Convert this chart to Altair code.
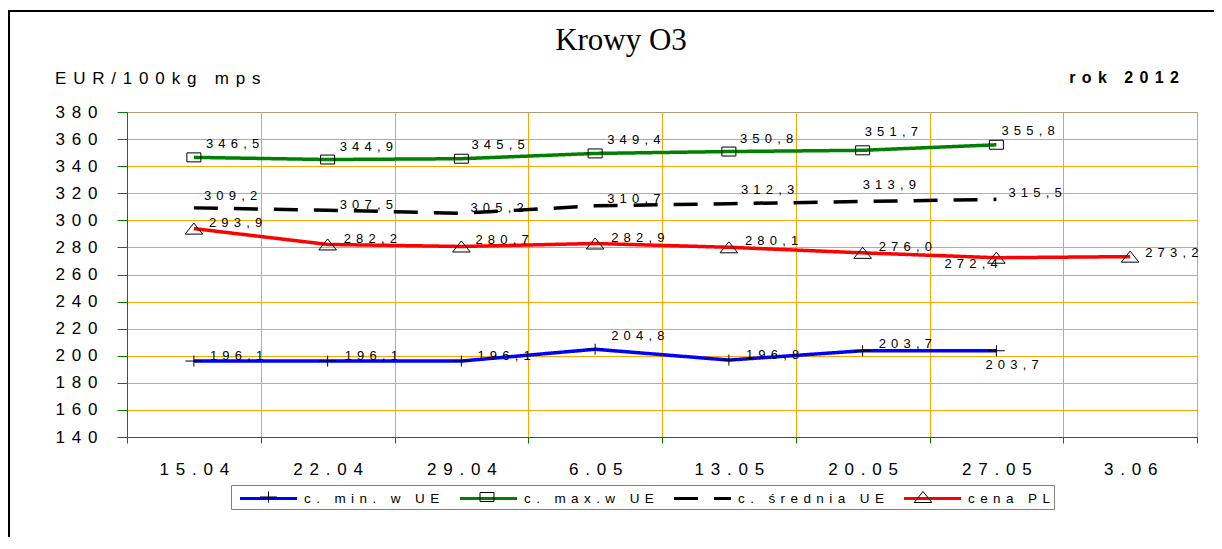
import altair as alt
import pandas as pd

# ---------------- data ----------------
DATES = ["15.04", "22.04", "29.04", "6.05", "13.05", "20.05", "27.05", "3.06"]
SERIES = ["c. min. w UE", "c. max.w UE", "c. średnia UE", "cena PL"]
MIN_UE = [196.1, 196.1, 196.1, 204.8, 196.8, 203.7, 203.7]
MAX_UE = [346.5, 344.9, 345.5, 349.4, 350.8, 351.7, 355.8]
AVG_UE = [309.2, 307.5, 305.2, 310.7, 312.3, 313.9, 315.5]
CENA_PL = [293.9, 282.2, 280.7, 282.9, 280.1, 276.0, 272.4, 273.2]
Y_TICKS = [140, 160, 180, 200, 220, 240, 260, 280, 300, 320, 340, 360, 380]

TITLE = "Krowy O3"
UNIT = "EUR/100kg mps"
YEAR = "rok 2012"

# ---------------- style ----------------
COLORS = ["#0000FF", "#008000", "#000000", "#FF0000"]
DASHES = [[1, 0], [1, 0], [24, 16], [1, 0]]
SYM = 256  # symbol size -> path unit = sqrt(256)/2 = 8 px
MARKERS = {  # series -> (marker path, legend x of its marker)
    "c. min. w UE": ("M-1.06,0H1.06M0,-0.69V0.69", 133),
    "c. max.w UE": ("M-0.875,-0.56H0.875V0.56H-0.875Z", 351.5),
    "cena PL": ("M0,-0.69L1.1,0.69L-1.1,0.69Z", 787.5),
}
LEGEND_LINE = "M-3.5625,0H3.5625"              # 57 px long line symbol
SANS = "Liberation Sans"
SERIF = "Liberation Serif"
SP = "\u2009\u2009"
GRID = "#FFA500"
AXIS_GREEN = "#008000"
FRAME_TAN = "#B49B78"
MARK_TAG = "#"
LEG_FS = 13.5

# label offsets (dx, dy) per point, style only
LABEL_OFFSETS = {
    "c. min. w UE": [(16, -1), (17, -1), (16, -1), (16, -9), (17, -1), (16, -3), (-11, 18)],
    "c. max.w UE": [(12, -9), (12, -9), (10, -10), (12, -9), (11, -9), (2, -14), (5, -10)],
    "c. średnia UE": [(10, -8), (12, -1), (9, -1), (12, -3), (12, -10), (0, -13), (12, -2)],
    "cena PL": [(15, -2), (16, -1), (14, -2), (16, -1), (16, -2), (16, -2), (-52, 10), (15, 0)],
}


def spaced(s):
    return SP.join(list(s))


def spaced_expr(e):
    return f"join(split({e}, ''), '{SP}')"


rows = []
for s, vals in zip(SERIES, [MIN_UE, MAX_UE, AVG_UE, CENA_PL]):
    for i, v in enumerate(vals):
        rows.append({"series": s, "marker": s + MARK_TAG, "date": DATES[i], "idx": i, "value": v})
df = pd.DataFrame(rows)

base = alt.Chart(df).transform_calculate(
    lbl=spaced_expr("replace(format(datum.value, '.1f'), '.', ',')")
)

x_axis = alt.Axis(
    title=None, tickBand="extent", grid=True, gridColor=GRID, gridWidth=1,
    domainColor=AXIS_GREEN, tickColor=AXIS_GREEN, tickSize=6, labelAngle=0,
    labelFont=SANS, labelFontSize=17, labelColor="black", labelBaseline="alphabetic",
    labelPadding=31, labelExpr=spaced_expr("datum.label"),
)
y_axis = alt.Axis(
    title=None, values=Y_TICKS, grid=True,
    gridColor={"condition": {"test": "datum.value === 380", "value": FRAME_TAN}, "value": GRID},
    domainColor=AXIS_GREEN, tickColor=AXIS_GREEN, tickSize=10, labelPadding=20,
    labelFont=SANS, labelFontSize=17, labelColor="black",
    labelExpr=spaced_expr("datum.label"),
)

X = alt.X("date:N", scale=alt.Scale(type="band", domain=DATES, paddingInner=0, paddingOuter=0), axis=x_axis)
Y = alt.Y("value:Q", scale=alt.Scale(domain=[140, 380], nice=False, zero=False), axis=y_axis)

legend_lines = alt.Legend(
    orient="none", legendX=104, legendY=373, direction="horizontal", title=None,
    symbolType=LEGEND_LINE, symbolSize=SYM, symbolStrokeWidth=3, symbolOffset=24,
    labelOffset=26, labelFont=SANS, labelFontSize=LEG_FS, labelLimit=400, labelColor="black",
    columnPadding=14, padding=4, strokeColor="#808080",
    labelExpr=spaced_expr("datum.label"), zindex=0,
)

lines = base.mark_line(strokeWidth=3.5, interpolate="linear").encode(
    x=X, y=Y,
    color=alt.Color("series:N", scale=alt.Scale(domain=SERIES, range=COLORS), legend=legend_lines),
    strokeDash=alt.StrokeDash("series:N", scale=alt.Scale(domain=SERIES, range=DASHES), legend=legend_lines),
    order=alt.Order("idx:Q"),
)

point_layers = []
for s, (path, lx) in MARKERS.items():
    mleg = alt.Legend(
        orient="none", legendX=lx, legendY=376.5, title=None, direction="horizontal",
        symbolSize=SYM, symbolStrokeWidth=1, symbolStrokeColor="black", symbolFillColor="transparent",
        labelExpr="''", labelFontSize=1, labelOffset=0, padding=0, zindex=1,
    )
    point_layers.append(
        base.transform_filter(f"datum.series === '{s}'")
        .mark_point(filled=False, size=SYM, stroke="black", strokeWidth=1, opacity=1)
        .encode(
            x=X, y=Y,
            shape=alt.Shape("marker:N", scale=alt.Scale(domain=[s + MARK_TAG], range=[path]), legend=mleg),
        )
    )

label_layers = []
for s, offs in LABEL_OFFSETS.items():
    for d, (dx, dy) in zip(DATES, offs):
        label_layers.append(
            base.transform_filter(f"datum.series === '{s}' && datum.date === '{d}'")
            .mark_text(align="left", baseline="alphabetic", dx=dx, dy=dy, font=SANS, fontSize=13, color="black")
            .encode(x=X, y=Y, text="lbl:N")
        )

hdr = alt.Chart(pd.DataFrame({"title": [TITLE], "unit": [spaced(UNIT)], "year": [spaced(YEAR)]}))
frame = hdr.mark_rect(fill="transparent", stroke="black", strokeWidth=2).encode(
    x=alt.value(-118), y=alt.value(-101), x2=alt.value(1400), y2=alt.value(800)
)
title_t = hdr.mark_text(font=SERIF, fontSize=31, align="center", baseline="alphabetic", color="black").encode(
    text="title:N", x=alt.value(494), y=alt.value(-62)
)
unit_t = hdr.mark_text(font=SANS, fontSize=17, align="left", baseline="alphabetic", color="black").encode(
    text="unit:N", x=alt.value(-72), y=alt.value(-28)
)
year_t = hdr.mark_text(font=SANS, fontSize=16, fontWeight="bold", align="right", baseline="alphabetic", color="black").encode(
    text="year:N", x=alt.value(1052), y=alt.value(-29)
)

chart = alt.layer(frame, lines, *point_layers, *label_layers, title_t, unit_t, year_t).resolve_scale(
    shape="independent"
).properties(
    width=1070, height=325,
    autosize=alt.AutoSizeParams(type="none"),
    padding={"left": 119, "top": 104, "right": 17, "bottom": 100},
    background="white",
).configure_view(stroke=FRAME_TAN, strokeWidth=1)

chart.save("out.html", embed_options={"renderer": "svg", "actions": False})
